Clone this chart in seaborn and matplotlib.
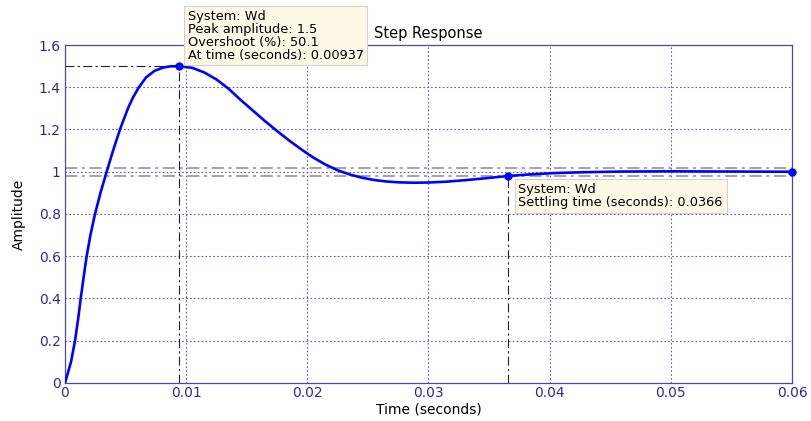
import matplotlib
matplotlib.use("Agg")
import matplotlib.pyplot as plt
import pandas as pd
import seaborn as sns

# Step response samples: time (s) and amplitude
time_s = [0.0, 0.0005, 0.00083, 0.00108, 0.0013, 0.00154, 0.00179, 0.0021,
          0.00248, 0.00293, 0.00344, 0.00397, 0.00454, 0.0049, 0.0052,
          0.0056, 0.0061, 0.0067, 0.0074, 0.00815, 0.0087, 0.00937, 0.0105,
          0.0115, 0.0125, 0.0135, 0.0145, 0.0155, 0.0165, 0.0175, 0.0185,
          0.0195, 0.0205, 0.0215, 0.0225, 0.0235, 0.0245, 0.0255, 0.0265,
          0.0275, 0.0288, 0.0300, 0.0315, 0.0330, 0.0345, 0.0366, 0.0385,
          0.0405, 0.0430, 0.0460, 0.0500, 0.0550, 0.0600]
amplitude = [0.0, 0.10, 0.20, 0.30, 0.40, 0.50, 0.60, 0.70,
             0.80, 0.90, 1.00, 1.10, 1.20, 1.255, 1.30,
             1.35, 1.40, 1.447, 1.478, 1.494, 1.499, 1.500, 1.492,
             1.470, 1.437, 1.393, 1.340, 1.290, 1.240, 1.193, 1.148,
             1.106, 1.067, 1.034, 1.007, 0.987, 0.972, 0.961, 0.954,
             0.950, 0.948, 0.949, 0.953, 0.960, 0.968, 0.980, 0.988,
             0.994, 0.998, 1.001, 1.002, 1.001, 1.000]

# Response characteristics
peak_time, peak_amp, overshoot = 0.00937, 1.5, 50.1
settle_time, settle_amp = 0.0366, 0.98
final_time, final_amp = 0.06, 1.0
band_hi, band_lo = 1.02, 0.98

x_ticks = [0, 0.01, 0.02, 0.03, 0.04, 0.05, 0.06]
x_tick_labels = ["0", "0.01", "0.02", "0.03", "0.04", "0.05", "0.06"]
y_ticks = [0, 0.2, 0.4, 0.6, 0.8, 1.0, 1.2, 1.4, 1.6]
y_tick_labels = ["0", "0.2", "0.4", "0.6", "0.8", "1", "1.2", "1.4", "1.6"]

df = pd.DataFrame({"Time": time_s, "Amplitude": amplitude})

sns.set_theme(style="white")
plt.rcParams["font.family"] = ["DejaVu Sans"]

axis_col = "#4a4aa0"
tick_text_col = "#2e2e86"
grid_col = "#5c5cb8"
dashdot = (0, (8, 3, 2, 3))

fig = plt.figure(figsize=(8.11, 4.21), dpi=100)
ax = fig.add_axes([0.0801, 0.0903, 0.8965, 0.8028])
ax.set_xlim(0, 0.06)
ax.set_ylim(0, 1.6)

# dotted grid
for xt in x_ticks[1:-1]:
    ax.axvline(xt, color=grid_col, lw=0.8, ls=(0, (1.5, 2)), zorder=1)
for yt in y_ticks[1:-1]:
    ax.axhline(yt, color=grid_col, lw=0.8, ls=(0, (1.5, 2)), zorder=1)

# settling band
for b in (band_hi, band_lo):
    ax.axhline(b, color="#8a8a8a", lw=1.1, ls=dashdot, zorder=2)

# peak and settling guides
ax.plot([0, peak_time], [peak_amp, peak_amp], color="#222222", lw=0.8,
        ls=dashdot, zorder=2)
ax.plot([peak_time, peak_time], [0, peak_amp], color="#222222", lw=0.8,
        ls=dashdot, zorder=2)
ax.plot([settle_time, settle_time], [0, settle_amp], color="#222222", lw=0.8,
        ls=dashdot, zorder=2)

sns.lineplot(data=df, x="Time", y="Amplitude", ax=ax, color="#0000ff", lw=1.9,
             sort=False, estimator=None, zorder=3)

ax.plot([peak_time, settle_time, final_time], [peak_amp, settle_amp, final_amp],
        "o", color="#0000ff", ms=5, zorder=4, clip_on=False)

ax.set_xticks(x_ticks)
ax.set_xticklabels(x_tick_labels)
ax.set_yticks(y_ticks)
ax.set_yticklabels(y_tick_labels)
ax.tick_params(axis="both", colors=axis_col, labelsize=10, direction="in",
               length=4, width=0.8, labelcolor=tick_text_col)
ax.tick_params(axis="x", pad=2)
ax.tick_params(axis="y", pad=3)
for s in ax.spines.values():
    s.set_color(axis_col)
    s.set_linewidth(0.9)

ax.set_xlabel("Time (seconds)", fontsize=10, color="black", labelpad=2)
ax.set_ylabel("Amplitude", fontsize=10, color="black", labelpad=9)
ax.set_title("Step Response", fontsize=10.5, color="black", pad=5)

box_style = dict(boxstyle="square,pad=0.3", fc="#fdf9e6", ec="#d2d2d2", lw=0.8)
ax.annotate("System: Wd\nPeak amplitude: 1.5\nOvershoot (%): 50.1\n"
            "At time (seconds): 0.00937",
            xy=(peak_time, peak_amp), xytext=(9, 56), textcoords="offset pixels",
            fontsize=9.3, color="black", va="top", ha="left", linespacing=0.98,
            bbox=box_style, zorder=6, annotation_clip=False)
ax.annotate("System: Wd\nSettling time (seconds): 0.0366",
            xy=(settle_time, settle_amp), xytext=(10, -7), textcoords="offset pixels",
            fontsize=9.3, color="black", va="top", ha="left", linespacing=0.98,
            bbox=box_style, zorder=6)

fig.savefig("out.png", dpi=100, facecolor="white")
